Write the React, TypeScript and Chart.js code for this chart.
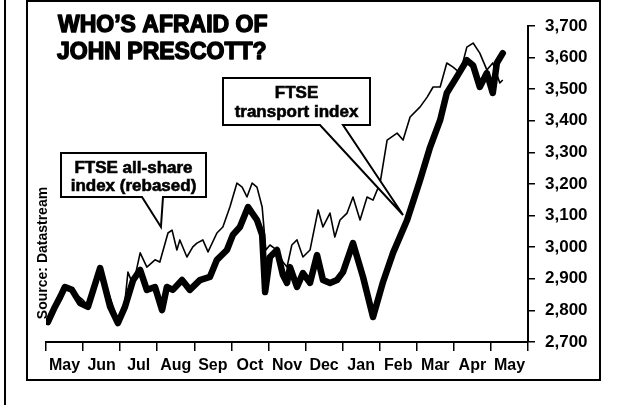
import { useEffect, useRef } from 'react';
import { Chart, registerables } from 'chart.js';

Chart.register(...registerables);

const W = 618;
const H = 405;
const FONT = '"Liberation Sans", Arial, sans-serif';

// Month bands along the x axis (0 = start of May, 13 = end of the following May)
const monthLabels = ['May', 'Jun', 'Jul', 'Aug', 'Sep', 'Oct', 'Nov', 'Dec', 'Jan', 'Feb', 'Mar', 'Apr', 'May'];
const yTickValues = [2700, 2800, 2900, 3000, 3100, 3200, 3300, 3400, 3500, 3600, 3700];

// FTSE transport index (dates as month offsets from the start of May)
const transportMonths = [
  0.05, 0.24, 0.38, 0.51, 0.7, 0.92, 1.13, 1.46, 1.73, 1.94, 2.13, 2.35, 2.54, 2.72, 2.94, 3.13, 3.26,
  3.42, 3.67, 3.88, 4.15, 4.42, 4.61, 4.88, 5.04, 5.23, 5.45, 5.69, 5.83, 5.91, 6.04, 6.23, 6.39, 6.5,
  6.58, 6.77, 6.93, 7.12, 7.31, 7.47, 7.66, 7.85, 8.01, 8.28, 8.55, 8.82, 9.09, 9.36, 9.74, 10.09,
  10.36, 10.63, 10.81, 11.08, 11.35, 11.52, 11.7, 11.89, 12.05, 12.16, 12.32,
];
const transportValues = [
  2763, 2811, 2842, 2874, 2865, 2823, 2811, 2934, 2811, 2760, 2811, 2896, 2928, 2865, 2874, 2801, 2874,
  2865, 2896, 2865, 2896, 2906, 2960, 2991, 3039, 3064, 3127, 3086, 3039, 2858, 2969, 2991, 2912, 2887,
  2937, 2874, 2918, 2887, 2975, 2896, 2887, 2896, 2921, 3013, 2906, 2779, 2890, 2982, 3086, 3213,
  3317, 3402, 3488, 3539, 3592, 3575, 3507, 3551, 3488, 3583, 3614,
];

// FTSE all-share index, rebased
const allShareMonths = [
  0.05, 0.24, 0.51, 0.98, 1.13, 1.46, 1.73, 1.94, 2.13, 2.21, 2.35, 2.54, 2.72, 2.94, 3.07, 3.29, 3.4,
  3.53, 3.61, 3.8, 3.96, 4.07, 4.23, 4.37, 4.61, 4.77, 4.96, 5.15, 5.29, 5.42, 5.56, 5.69, 5.83, 5.93,
  6.04, 6.23, 6.39, 6.5, 6.63, 6.77, 6.93, 7.12, 7.34, 7.47, 7.66, 7.79, 7.93, 8.12, 8.28, 8.47, 8.66,
  8.82, 9.01, 9.2, 9.47, 9.63, 9.82, 10.09, 10.28, 10.44, 10.63, 10.81, 10.98, 11.17, 11.35, 11.52,
  11.7, 11.89, 12.05, 12.24, 12.32,
];
const allShareValues = [
  2765, 2815, 2878, 2835, 2815, 2935, 2839, 2770, 2830, 2921, 2880, 2982, 2937, 2960, 2953, 3045, 3054,
  2991, 3023, 2969, 3001, 3013, 3023, 2985, 3045, 3064, 3127, 3203, 3190, 3159, 3203, 3190, 3127, 2991,
  3007, 2991, 2953, 2937, 3007, 3023, 2969, 2991, 3118, 3064, 3108, 3032, 3086, 3108, 3159, 3086, 3159,
  3149, 3203, 3339, 3361, 3339, 3412, 3444, 3475, 3507, 3507, 3583, 3570, 3551, 3633, 3646,
  3614, 3561, 3583, 3520, 3529,
];

const titleLines = ["WHO\u2019S AFRAID OF", 'JOHN PRESCOTT?'];
const allShareLabel = ['FTSE all-share', 'index (rebased)'];
const transportLabel = ['FTSE', 'transport index'];
const sourceText = 'Source: Datastream';

// callout pointer anchors in data space (month offset, index value)
const allShareAnchor = [3.1, 3064];
const transportAnchor = [9.63, 3102];

type Box = { l: number; t: number; r: number; b: number };

function drawCallout(
  c: CanvasRenderingContext2D,
  box: Box,
  baseL: number,
  baseR: number,
  tipX: number,
  tipY: number,
  lines: string[],
  baselines: number[],
) {
  c.save();
  c.beginPath();
  c.moveTo(box.l, box.t);
  c.lineTo(box.r, box.t);
  c.lineTo(box.r, box.b);
  c.lineTo(baseR, box.b);
  c.lineTo(tipX, tipY);
  c.lineTo(baseL, box.b);
  c.lineTo(box.l, box.b);
  c.closePath();
  c.fillStyle = '#fff';
  c.fill();
  c.lineWidth = 2;
  c.strokeStyle = '#000';
  c.lineJoin = 'miter';
  c.stroke();
  c.fillStyle = '#000';
  c.font = `bold 17px ${FONT}`;
  c.textAlign = 'center';
  c.textBaseline = 'alphabetic';
  c.lineWidth = 0.6;
  const cx = (box.l + box.r) / 2;
  lines.forEach((s, i) => {
    c.fillText(s, cx, baselines[i]);
    c.strokeText(s, cx, baselines[i]);
  });
  c.restore();
}

export default function App() {
  const ref = useRef<HTMLCanvasElement>(null);

  useEffect(() => {
    const canvas = ref.current;
    if (!canvas) return;

    const decor = {
      id: 'decor',
      afterDraw(chart: any) {
        const c: CanvasRenderingContext2D = chart.ctx;
        const xs = chart.scales.x;
        const ys = chart.scales.y;
        c.save();
        c.strokeStyle = '#000';
        c.lineWidth = 2;
        c.strokeRect(27, 1, 573, 379);
        c.beginPath();
        c.moveTo(5, 0);
        c.lineTo(5, H);
        c.stroke();

        c.fillStyle = '#000';
        c.font = `bold 23px ${FONT}`;
        c.textAlign = 'left';
        c.textBaseline = 'alphabetic';
        c.lineWidth = 1.4;
        c.lineJoin = 'round';
        c.fillText(titleLines[0], 58, 32);
        c.strokeText(titleLines[0], 58, 32);
        c.fillText(titleLines[1], 57, 59);
        c.strokeText(titleLines[1], 57, 59);

        drawCallout(
          c,
          { l: 61, t: 153, r: 206, b: 197 },
          142,
          163,
          xs.getPixelForValue(allShareAnchor[0]),
          ys.getPixelForValue(allShareAnchor[1]),
          allShareLabel,
          [173, 191],
        );
        drawCallout(
          c,
          { l: 223, t: 78, r: 370, b: 125 },
          320,
          343,
          xs.getPixelForValue(transportAnchor[0]),
          ys.getPixelForValue(transportAnchor[1]),
          transportLabel,
          [98, 117],
        );

        c.translate(47, 253);
        c.rotate(-Math.PI / 2);
        c.textAlign = 'center';
        c.textBaseline = 'alphabetic';
        c.font = `bold 14px ${FONT}`;
        c.fillText(sourceText, 0, 0);
        c.restore();
      },
    };

    const chart = new Chart(canvas, {
      type: 'line',
      data: {
        datasets: [
          {
            label: 'FTSE all-share index (rebased)',
            data: allShareMonths.map((m, i) => ({ x: m, y: allShareValues[i] })),
            borderColor: '#000',
            borderWidth: 1.6,
            pointRadius: 0,
            tension: 0,
            borderJoinStyle: 'round',
            order: 2,
          },
          {
            label: 'FTSE transport index',
            data: transportMonths.map((m, i) => ({ x: m, y: transportValues[i] })),
            borderColor: '#000',
            borderWidth: 6.5,
            pointRadius: 0,
            tension: 0,
            borderJoinStyle: 'round',
            borderCapStyle: 'round',
            order: 1,
          },
        ],
      },
      options: {
        responsive: false,
        animation: false,
        devicePixelRatio: 1,
        layout: { padding: { left: 46, top: 26, right: 0, bottom: 0 } },
        plugins: { legend: { display: false }, tooltip: { enabled: false }, title: { display: false } },
        scales: {
          x: {
            type: 'linear',
            position: 'bottom',
            min: 0,
            max: monthLabels.length,
            afterBuildTicks: (scale: any) => {
              const t: { value: number }[] = [];
              for (let i = 0; i <= monthLabels.length; i++) {
                t.push({ value: i });
                if (i < monthLabels.length) t.push({ value: i + 0.5 });
              }
              scale.ticks = t;
            },
            afterFit: (scale: any) => {
              scale.height = 63;
            },
            grid: {
              drawOnChartArea: false,
              drawTicks: true,
              tickLength: 9,
              lineWidth: 1.5,
              color: (ctx: any) =>
                ctx.tick && Number.isInteger(ctx.tick.value) ? '#000' : 'rgba(0,0,0,0)',
            },
            border: { display: true, color: '#000', width: 2 },
            ticks: {
              autoSkip: false,
              maxRotation: 0,
              padding: 5,
              color: '#000',
              font: { family: FONT, size: 16, weight: 'bold' },
              callback: (v: any) => (Number.isInteger(v) ? '' : monthLabels[Math.floor(v)]),
            },
          },
          y: {
            type: 'linear',
            position: 'right',
            min: yTickValues[0],
            max: yTickValues[yTickValues.length - 1],
            afterBuildTicks: (scale: any) => {
              scale.ticks = yTickValues.map((v) => ({ value: v }));
            },
            afterFit: (scale: any) => {
              scale.width = 90;
            },
            grid: { drawOnChartArea: false, drawTicks: true, tickLength: 7, lineWidth: 1.5, color: '#000' },
            border: { display: true, color: '#000', width: 2 },
            ticks: {
              padding: 10,
              color: '#000',
              font: { family: FONT, size: 17, weight: 'bold' },
              callback: (v: any) => Number(v).toLocaleString('en-US'),
            },
          },
        },
      },
      plugins: [decor],
    });

    return () => chart.destroy();
  }, []);

  return (
    <div style={{ position: 'fixed', left: 0, top: 0, width: W, height: H, background: '#fff' }}>
      <canvas ref={ref} width={W} height={H} style={{ width: W, height: H, display: 'block' }} />
    </div>
  );
}
